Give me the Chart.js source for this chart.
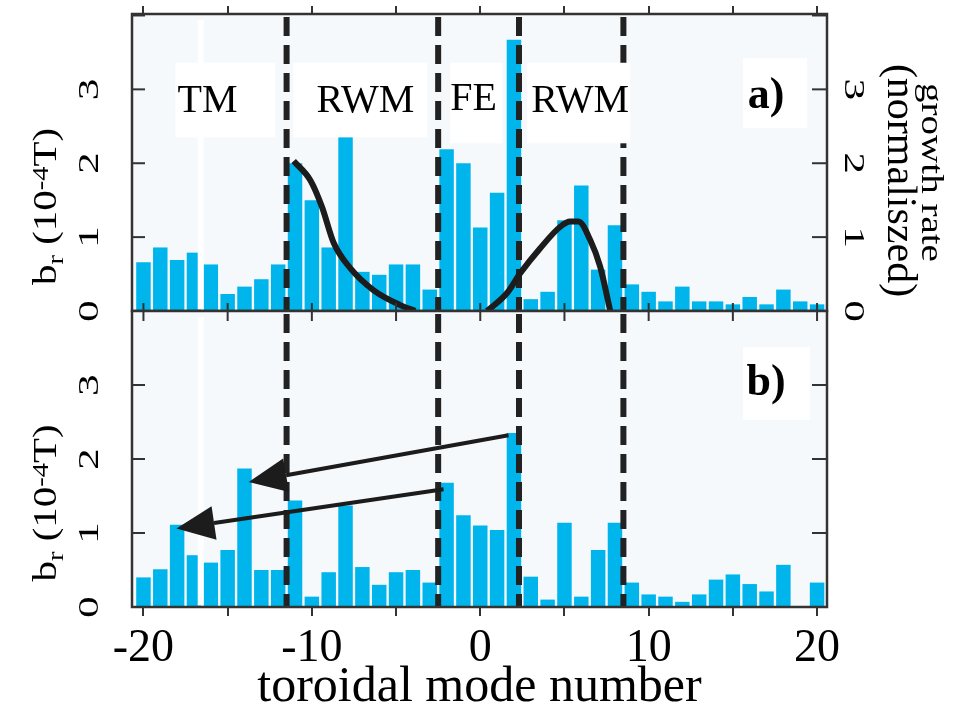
<!DOCTYPE html>
<html>
<head>
<meta charset="utf-8">
<script src="https://cdn.jsdelivr.net/npm/chart.js@4.4.0/dist/chart.umd.min.js"></script>
<style>
  html, body { margin: 0; padding: 0; background: #fff; }
  #wrap { position: relative; width: 974px; height: 718px; }
  .panel { position: absolute; left: 0; width: 974px; }
  #topBox { top: 0; height: 330px; }
  #bottomBox { top: 300px; height: 418px; }
</style>
</head>
<body>
<div id="wrap">
  <div class="panel" id="topBox"><canvas id="topChart"></canvas></div>
  <div class="panel" id="bottomBox"><canvas id="bottomChart"></canvas></div>
</div>
<script>
// toroidal mode numbers n = -20 .. 20
const modeNumbers = [-20, -19, -18, -17, -16, -15, -14, -13, -12, -11, -10, -9, -8, -7, -6, -5, -4, -3, -2, -1,
    0, 1, 2, 3, 4, 5, 6, 7, 8, 9, 10, 11, 12, 13, 14, 15, 16, 17, 18, 19, 20];

// b_r (10^-4 T), panel a)
const brPanelA = [0.66, 0.86, 0.69, 0.79, 0.63, 0.23, 0.33, 0.43, 0.63, 2.00, 1.50, 0.86, 2.36, 0.53, 0.49, 0.63, 0.63, 0.29, 2.19, 2.00,
    1.13, 1.60, 3.67, 0.16, 0.26, 1.23, 1.70, 0.56, 1.16, 0.36, 0.26, 0.13, 0.33, 0.13, 0.13, 0.09, 0.19, 0.09, 0.29, 0.13, 0.09];

// b_r (10^-4 T), panel b)
const brPanelB = [0.40, 0.51, 1.11, 0.70, 0.60, 0.77, 1.87, 0.50, 0.50, 1.44, 0.14, 0.47, 1.37, 0.54, 0.30, 0.47, 0.50, 0.33, 1.68, 1.24,
    1.10, 1.04, 2.35, 0.41, 0.10, 1.14, 0.14, 0.77, 1.14, 0.33, 0.17, 0.14, 0.07, 0.17, 0.37, 0.44, 0.31, 0.21, 0.57, 0.00, 0.33];

// growth rate (normalised), two RWM branches
const growthLowN = [-11.08, -10.09, -9.40, -8.70, -7.72, -6.33, -4.75, -3.86];
const growthLowRate = [2.03, 1.77, 1.41, 0.92, 0.58, 0.28, 0.08, 0.00];
const growthHighN = [0.40, 1.58, 2.37, 3.56, 4.75, 5.34, 5.83, 6.53, 7.12, 7.72];
const growthHighRate = [0.00, 0.24, 0.51, 0.85, 1.14, 1.21, 1.21, 0.96, 0.60, 0.00];

// region boundaries (dashed) and the TM marker line
const regionBounds = [-11.5, -2.5, 2.3, 8.5];
const tmMarker = -16.6;
const regionNames = ['TM', 'RWM', 'FE', 'RWM'];

// axis ticks
const xTickStep = 5;
const xLabelValues = [-20, -10, 0, 10, 20];
const yTickLabels = [0, 1, 2, 3];
const yTickMarksA = [0, 1, 2, 3, 4];
const yTickMarksB = [1, 2, 3];

const SERIF = '"Liberation Serif", "Times New Roman", serif';
const BAR_BLUE = '#00b4ec';
const PLOT_BG = '#f6f9fc';
const INK = '#1c1c1c';
const X_MIN = -20.68, X_MAX = 20.59;
const Y_MAX_A = 4.02, Y_MAX_B = 4.0;

function drawRotated(ctx, parts, x, y, angle, stretch) {
    ctx.save();
    ctx.translate(x, y);
    ctx.rotate(angle);
    ctx.scale(stretch, 1);
    let total = 0;
    parts.forEach(p => {
        ctx.font = `${p.size}px ${SERIF}`;
        p.w = ctx.measureText(p.text).width;
        total += p.w;
    });
    let cx = -total / 2;
    ctx.fillStyle = '#000';
    ctx.textAlign = 'left';
    ctx.textBaseline = 'alphabetic';
    parts.forEach(p => {
        ctx.font = `${p.size}px ${SERIF}`;
        ctx.fillText(p.text, cx, p.dy || 0);
        cx += p.w;
    });
    ctx.restore();
}

function drawArrow(ctx, x1, y1, x2, y2) {
    const ang = Math.atan2(y2 - y1, x2 - x1);
    const headLen = 38, halfW = 17;
    const bx = x2 - headLen * Math.cos(ang);
    const by = y2 - headLen * Math.sin(ang);
    ctx.save();
    ctx.strokeStyle = INK;
    ctx.fillStyle = INK;
    ctx.lineWidth = 4;
    ctx.beginPath();
    ctx.moveTo(x1, y1);
    ctx.lineTo(bx, by);
    ctx.stroke();
    ctx.beginPath();
    ctx.moveTo(x2, y2);
    ctx.lineTo(bx - halfW * Math.sin(ang), by + halfW * Math.cos(ang));
    ctx.lineTo(bx + halfW * Math.sin(ang), by - halfW * Math.cos(ang));
    ctx.closePath();
    ctx.fill();
    ctx.restore();
}

// panel frame, inward ticks, rotated labels, annotations
function makeDecor(cfg) {
    return {
        id: 'panelDecor',
        beforeDraw(chart) {
            const {ctx, chartArea: a} = chart;
            ctx.save();
            ctx.fillStyle = PLOT_BG;
            ctx.fillRect(a.left, a.top, a.right - a.left, a.bottom - a.top);
            ctx.restore();
        },
        afterDatasetsDraw(chart) {
            const ctx = chart.ctx;
            const xs = chart.scales.x, ys = chart.scales.y;
            cfg.labels.forEach(l => {
                if (l.box) {
                    const x0 = xs.getPixelForValue(l.box[0]), x1 = xs.getPixelForValue(l.box[1]);
                    const y0 = ys.getPixelForValue(l.box[2]), y1 = ys.getPixelForValue(l.box[3]);
                    ctx.fillStyle = '#fff';
                    ctx.fillRect(x0, y0, x1 - x0, y1 - y0);
                }
            });
            cfg.labels.forEach(l => {
                ctx.font = `${l.bold ? 'bold ' : ''}${l.size}px ${SERIF}`;
                ctx.fillStyle = '#000';
                ctx.textAlign = 'center';
                ctx.textBaseline = 'alphabetic';
                ctx.fillText(l.text, xs.getPixelForValue(l.x), ys.getPixelForValue(l.y));
            });
            (cfg.arrows || []).forEach(ar => {
                drawArrow(ctx,
                    xs.getPixelForValue(ar.from[0]), ys.getPixelForValue(ar.from[1]),
                    xs.getPixelForValue(ar.to[0]), ys.getPixelForValue(ar.to[1]));
            });
        },
        afterDraw(chart) {
            const ctx = chart.ctx, a = chart.chartArea;
            const xs = chart.scales.x, ys = chart.scales.y;
            ctx.save();
            ctx.strokeStyle = '#333';
            ctx.lineWidth = 2;
            cfg.leftMarks.forEach(v => {
                const py = ys.getPixelForValue(v);
                ctx.beginPath(); ctx.moveTo(a.left, py); ctx.lineTo(a.left + 13, py); ctx.stroke();
            });
            cfg.rightMarks.forEach(v => {
                const py = ys.getPixelForValue(v);
                ctx.beginPath(); ctx.moveTo(a.right - 15, py); ctx.lineTo(a.right, py); ctx.stroke();
            });
            if (cfg.sharedTicks) {
                for (let v = -20; v <= 20; v += xTickStep) {
                    const px = xs.getPixelForValue(v);
                    ctx.beginPath(); ctx.moveTo(px, a.top - 8); ctx.lineTo(px, a.top + 10); ctx.stroke();
                }
            }
            ctx.lineWidth = 2.5;
            ctx.strokeRect(a.left, a.top, a.right - a.left, a.bottom - a.top);
            ctx.restore();

            yTickLabels.forEach(v => {
                drawRotated(ctx, [{text: String(v), size: 30}], 98, ys.getPixelForValue(v), -Math.PI / 2, 1.45);
                if (cfg.rightLabels) {
                    drawRotated(ctx, [{text: String(v), size: 30}], 845, ys.getPixelForValue(v), Math.PI / 2, 1.45);
                }
            });

            const midY = (a.top + a.bottom) / 2;
            drawRotated(ctx, [
                {text: 'b', size: 33},
                {text: 'r', size: 23, dy: 7},
                {text: ' (10', size: 33},
                {text: '-4', size: 23, dy: -8},
                {text: 'T)', size: 33}
            ], 56, midY + 44, -Math.PI / 2, 1.24);

            if (cfg.rightTitle) {
                drawRotated(ctx, [{text: 'growth rate', size: 32}], 922, midY + 10, Math.PI / 2, 1.22);
                drawRotated(ctx, [{text: '(normaliszed)', size: 42}], 888, midY + 18, Math.PI / 2, 1.0);
            }
        }
    };
}

function lineSet(xsArr, ysArr, extra) {
    return Object.assign({
        type: 'line',
        data: xsArr.map((n, i) => ({x: n, y: ysArr[i]})),
        pointRadius: 0,
        fill: false
    }, extra);
}

function baseDatasets(values, yMax) {
    const sets = [];
    regionBounds.forEach(b => {
        sets.push(lineSet([b, b], [yMax * 0.99, 0], {
            borderColor: '#222', borderWidth: 6, borderDash: [19, 9], order: 1
        }));
    });
    sets.push(lineSet([tmMarker, tmMarker], [yMax * 0.98, 0.02], {
        borderColor: '#ffffff', borderWidth: 6, order: 2
    }));
    sets.push({
        type: 'bar',
        data: modeNumbers.map((n, i) => ({x: n, y: values[i]})),
        backgroundColor: BAR_BLUE,
        barPercentage: 0.86,
        categoryPercentage: 1,
        order: 3
    });
    return sets;
}

const hiddenY = (pos, width, yMax) => ({
    type: 'linear',
    position: pos,
    min: 0,
    max: yMax,
    ticks: {display: false},
    grid: {display: false},
    border: {display: false},
    afterFit: s => { s.width = width; }
});

// ---- panel a) ----
const datasetsA = [
    lineSet(growthLowN, growthLowRate, {
        yAxisID: 'y2', borderColor: INK, borderWidth: 6, cubicInterpolationMode: 'monotone', order: 0
    }),
    lineSet(growthHighN, growthHighRate, {
        yAxisID: 'y2', borderColor: INK, borderWidth: 6, cubicInterpolationMode: 'monotone', order: 0
    })
].concat(baseDatasets(brPanelA, Y_MAX_A));

new Chart(document.getElementById('topChart'), {
    type: 'bar',
    data: {datasets: datasetsA},
    options: {
        responsive: true,
        maintainAspectRatio: false,
        devicePixelRatio: 1,
        animation: false,
        events: [],
        layout: {padding: {top: 0, bottom: 19, left: 0, right: 0}},
        plugins: {legend: {display: false}, tooltip: {enabled: false}},
        scales: {
            x: {
                type: 'linear',
                position: 'top',
                min: X_MIN,
                max: X_MAX,
                offset: false,
                ticks: {display: false, stepSize: xTickStep, includeBounds: false},
                grid: {offset: false, drawOnChartArea: false, tickLength: 8, color: '#333', lineWidth: 2},
                border: {display: false},
                afterFit: s => { s.height = 14; }
            },
            y: hiddenY('left', 132, Y_MAX_A),
            y2: hiddenY('right', 147, Y_MAX_A)
        }
    },
    plugins: [makeDecor({
        leftMarks: yTickMarksA,
        rightMarks: yTickMarksA,
        rightLabels: true,
        rightTitle: true,
        labels: [
            {text: regionNames[0], x: -16.2, y: 2.69, size: 40, box: [-18.1, -12.17, 3.36, 2.35]},
            {text: regionNames[1], x: -6.82, y: 2.69, size: 40, box: [-11.1, -3.15, 3.36, 2.35]},
            {text: regionNames[2], x: -0.39, y: 2.72, size: 40, box: [-1.78, 1.31, 3.36, 2.27]},
            {text: regionNames[3], x: 5.93, y: 2.69, size: 40, box: [2.79, 8.9, 3.36, 2.27]},
            {text: 'a)', x: 16.97, y: 2.75, size: 44, bold: true, box: [15.61, 19.41, 3.42, 2.48]}
        ]
    })]
});

// ---- panel b) ----
new Chart(document.getElementById('bottomChart'), {
    type: 'bar',
    data: {datasets: baseDatasets(brPanelB, Y_MAX_B)},
    options: {
        responsive: true,
        maintainAspectRatio: false,
        devicePixelRatio: 1,
        animation: false,
        events: [],
        layout: {padding: {top: 11, bottom: 0, left: 0, right: 147}},
        plugins: {legend: {display: false}, tooltip: {enabled: false}},
        scales: {
            x: {
                type: 'linear',
                position: 'bottom',
                min: X_MIN,
                max: X_MAX,
                offset: false,
                ticks: {
                    stepSize: xTickStep,
                    includeBounds: false,
                    autoSkip: false,
                    maxRotation: 0,
                    padding: 5,
                    color: '#000',
                    font: {family: SERIF, size: 46},
                    callback: v => xLabelValues.includes(v) ? String(v) : ''
                },
                grid: {offset: false, drawOnChartArea: false, tickLength: 9, color: '#333', lineWidth: 2},
                border: {display: false},
                title: {
                    display: true,
                    text: 'toroidal mode number',
                    color: '#000',
                    font: {family: SERIF, size: 50},
                    padding: 0
                },
                afterFit: s => { s.height = 111; }
            },
            y: hiddenY('left', 132, Y_MAX_B)
        }
    },
    plugins: [makeDecor({
        leftMarks: yTickMarksB,
        rightMarks: yTickMarksB,
        rightLabels: false,
        rightTitle: false,
        sharedTicks: true,
        labels: [
            {text: 'b)', x: 16.97, y: 2.86, size: 44, bold: true, box: [15.61, 19.58, 3.51, 2.53]}
        ],
        arrows: [
            {from: [1.68, 2.32], to: [-13.75, 1.69]},
            {from: [-2.18, 1.59], to: [-18.04, 1.06]}
        ]
    })]
});
</script>
</body>
</html>
